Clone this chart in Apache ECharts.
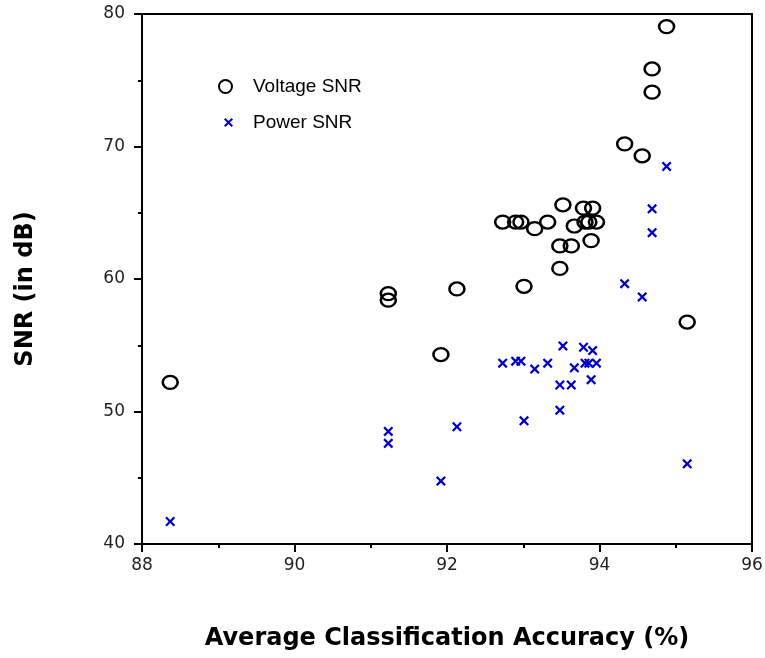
<!DOCTYPE html>
<html>
<head>
<meta charset="utf-8">
<script src="https://cdn.jsdelivr.net/npm/echarts@6/dist/echarts.min.js"></script>
<style>html,body{margin:0;padding:0;background:#fff;}#c{width:765px;height:658px;}</style>
</head>
<body>
<div id="c"></div>
<script>
// Average classification accuracy (%) for each configuration
const accuracy = [88.37, 91.23, 91.23, 91.92, 92.13, 93.01, 92.73, 92.90, 92.97, 93.15,
  93.32, 93.52, 93.48, 93.63, 93.48, 93.67, 93.79, 93.91, 93.81, 93.86,
  93.96, 93.89, 94.33, 94.56, 94.69, 94.69, 94.88, 95.15];
// Voltage SNR (dB)
const voltageSNR = [52.2, 58.9, 58.4, 54.3, 59.25, 59.45, 64.3, 64.3, 64.3, 63.8,
  64.3, 65.6, 62.5, 62.5, 60.8, 64.0, 65.35, 65.35, 64.3, 64.3,
  64.3, 62.9, 70.2, 69.3, 74.1, 75.85, 79.05, 56.75];
// Power SNR (dB)
const powerSNR = [41.7, 48.5, 47.6, 44.75, 48.85, 49.3, 53.65, 53.8, 53.8, 53.2,
  53.65, 54.95, 52.0, 52.0, 50.1, 53.3, 54.85, 54.6, 53.65, 53.65,
  53.65, 52.4, 59.65, 58.65, 63.5, 65.3, 68.5, 46.05];
const seriesNames = ['Voltage SNR', 'Power SNR'];
const xTitle = 'Average Classification Accuracy (%)';
const yTitle = 'SNR (in dB)';

const voltagePts = accuracy.map((x, i) => [x, voltageSNR[i]]);
const powerPts = accuracy.map((x, i) => [x, powerSNR[i]]);

const crossPath = 'path://M0,1.6L1.6,0L5,3.4L8.4,0L10,1.6L6.6,5L10,8.4L8.4,10L5,6.6L1.6,10L0,8.4L3.4,5Z';
const blue = '#0000cc';
const tickFont = { fontFamily: 'DejaVu Sans', fontSize: 17, color: '#222' };
const titleFont = { fontFamily: 'DejaVu Sans', fontWeight: 'bold', fontSize: 24, color: '#000' };

const chart = echarts.init(document.getElementById('c'), null, { renderer: 'canvas' });
chart.setOption({
  animation: false,
  backgroundColor: '#fff',
  grid: { left: 142, right: 13, top: 14, bottom: 114, outerBoundsMode: 'none', containLabel: false,
    show: true, borderColor: '#000', borderWidth: 2, backgroundColor: 'transparent' },
  legend: [
    {
      data: [seriesNames[0]], orient: 'vertical', left: 213, top: 72,
      itemWidth: 15, itemHeight: 13,
      textStyle: { fontFamily: 'Liberation Sans', fontSize: 19, color: '#000', padding: [0, 0, 0, 15] },
      selectedMode: false
    },
    {
      data: [seriesNames[1]], orient: 'vertical', left: 219, top: 108,
      itemWidth: 9, itemHeight: 9,
      textStyle: { fontFamily: 'Liberation Sans', fontSize: 19, color: '#000', padding: [0, 0, 0, 15] },
      selectedMode: false
    }
  ],
  xAxis: {
    type: 'value', min: 88, max: 96, interval: 2,
    name: xTitle, nameLocation: 'middle', nameGap: 83, nameTextStyle: titleFont,
    axisLine: { show: true, lineStyle: { color: '#000', width: 2 } },
    axisTick: { show: true, inside: false, length: 8, lineStyle: { color: '#000', width: 2 } },
    minorTick: { show: true, splitNumber: 2, length: 4, lineStyle: { color: '#000', width: 2 } },
    splitLine: { show: false },
    axisLabel: Object.assign({ margin: 13 }, tickFont)
  },
  yAxis: {
    type: 'value', min: 40, max: 80, interval: 10,
    name: yTitle, nameLocation: 'middle', nameGap: 104,
    nameTextStyle: Object.assign({ padding: [0, 20, 0, 0] }, titleFont),
    axisLine: { show: true, lineStyle: { color: '#000', width: 2 } },
    axisTick: { show: true, inside: false, length: 8, lineStyle: { color: '#000', width: 2 } },
    minorTick: { show: true, splitNumber: 2, length: 4, lineStyle: { color: '#000', width: 2 } },
    splitLine: { show: false },
    axisLabel: Object.assign({ margin: 17 }, tickFont)
  },
  series: [
    {
      name: seriesNames[0], type: 'scatter', data: voltagePts,
      symbol: 'circle', symbolSize: [15, 13],
      itemStyle: { color: 'rgba(255,255,255,0)', borderColor: '#000', borderWidth: 2.4, opacity: 1 },
      emphasis: { disabled: true }
    },
    {
      name: seriesNames[1], type: 'scatter', data: powerPts,
      symbol: crossPath, symbolSize: 10,
      itemStyle: { color: blue, opacity: 1 },
      emphasis: { disabled: true }
    }
  ]
});
</script>
</body>
</html>
